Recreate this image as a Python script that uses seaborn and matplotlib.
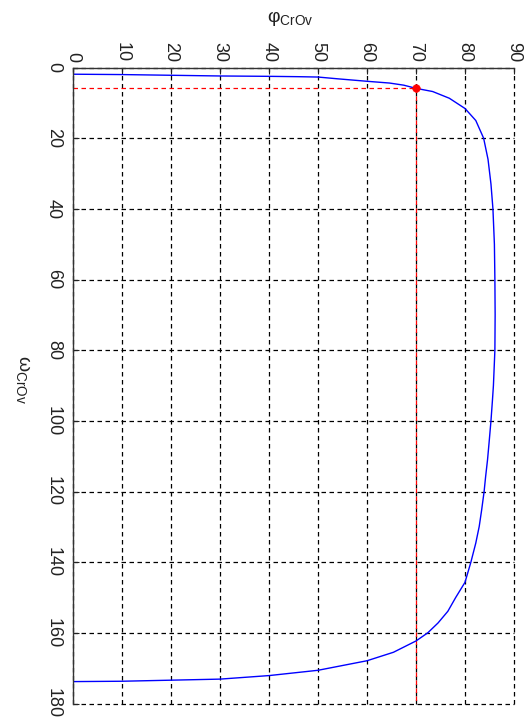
import matplotlib
matplotlib.use("Agg")
import matplotlib.pyplot as plt
import seaborn as sns
import pandas as pd

# ---- data ----
omega_curve = [1.9, 2.0, 2.2, 2.4, 2.5, 2.6, 2.7, 3.2, 3.9, 4.4, 5.0, 5.9, 6.8, 8.7, 11.6,
               15.0, 20.0, 26.0, 33.0, 40.0, 50.0, 60.0, 70.0, 80.0, 90.0, 94.2, 100.0,
               106.4, 111.0, 115.9, 120.0, 125.2, 129.9, 134.6, 140.0, 145.7, 150.0, 153.9,
               157.2, 160.0, 162.3, 165.5, 167.9, 170.6, 172.1, 173.1, 173.4, 173.7, 173.8]
phi_curve = [0.0, 10.0, 20.0, 30.0, 40.0, 46.0, 50.0, 54.0, 60.0, 64.6, 67.5, 70.0, 73.4, 76.8, 80.0,
             82.2, 83.8, 84.7, 85.3, 85.7, 86.0, 86.1, 86.15, 86.1, 85.8, 85.6, 85.3,
             84.9, 84.6, 84.2, 83.9, 83.4, 82.9, 82.2, 81.2, 80.0, 78.1, 76.5,
             74.5, 72.4, 70.0, 65.4, 60.0, 50.0, 40.0, 30.0, 20.0, 10.0, 0.0]
marker_phi = 70.0
marker_omega = 5.9
phi_ticks = [0, 10, 20, 30, 40, 50, 60, 70, 80, 90]
omega_ticks = [0, 20, 40, 60, 80, 100, 120, 140, 160, 180]

df = pd.DataFrame({"phi": phi_curve, "omega": omega_curve})

sns.set_theme(style="white")
plt.rcParams["font.family"] = ["Liberation Sans", "DejaVu Sans"]
plt.rcParams["mathtext.fontset"] = "custom"
plt.rcParams["mathtext.rm"] = "Liberation Sans"
plt.rcParams["mathtext.it"] = "Liberation Sans:italic"

fig = plt.figure(figsize=(5.28, 7.23), dpi=100)
fig.patch.set_facecolor("white")
ax = fig.add_axes([73 / 528, 1 - 703.5 / 723, 441 / 528, 636 / 723])
ax.set_facecolor("white")

grid_ls = (0, (3.6, 2.8))
ax.set_axisbelow(True)
ax.grid(True, color="black", linestyle=grid_ls, linewidth=0.9)

# reference lines
sns.lineplot(x=[0, marker_phi], y=[marker_omega, marker_omega], ax=ax, color="red",
             linestyle=grid_ls, linewidth=0.9, sort=False, estimator=None, zorder=3)
sns.lineplot(x=[marker_phi, marker_phi], y=[marker_omega, 180], ax=ax, color="red",
             linestyle=grid_ls, linewidth=0.9, sort=False, estimator=None, zorder=3)

# main curve
sns.lineplot(data=df, x="phi", y="omega", ax=ax, color="#0000ff", linewidth=1.0,
             sort=False, estimator=None, zorder=4)

sns.scatterplot(x=[marker_phi], y=[marker_omega], ax=ax, color="red", s=30,
                edgecolor="red", zorder=5)

ax.set_xlim(0, 90)
ax.set_ylim(180, 0)
ax.set_xticks(phi_ticks)
ax.set_yticks(omega_ticks)
ax.set_xticklabels([str(t) for t in phi_ticks], rotation=-90, ha="center", va="bottom")
ax.set_yticklabels([str(t) for t in omega_ticks], rotation=-90, ha="right", va="center")
ax.xaxis.tick_top()
ax.tick_params(axis="x", which="both", top=True, bottom=False, direction="in",
               length=4, width=0.8, pad=4, labelsize=13, colors="#222222")
ax.tick_params(axis="y", which="both", left=True, right=False, direction="in",
               length=4, width=0.8, pad=8, labelsize=13, colors="#222222")
ax.set_xlabel("")
ax.set_ylabel("")

for gl in ax.get_xgridlines() + ax.get_ygridlines():
    gl.set_clip_on(False)

for side in ["right", "bottom"]:
    ax.spines[side].set_visible(False)
for side in ["left", "top"]:
    ax.spines[side].set_visible(True)
    ax.spines[side].set_color("#333333")
    ax.spines[side].set_linewidth(1.0)
    ax.spines[side].set_zorder(6)

fig.text(290 / 528, 1 - 18.5 / 723, r"$\mathrm{φ_{CrOv}}$", ha="center", va="center",
         fontsize=14, color="#222222")
fig.text(22.5 / 528, 1 - 380 / 723, r"$\mathrm{ω_{CrOv}}$", ha="center", va="center",
         rotation=-90, fontsize=14, color="#222222")

fig.savefig("out.png", dpi=100, facecolor="white")
